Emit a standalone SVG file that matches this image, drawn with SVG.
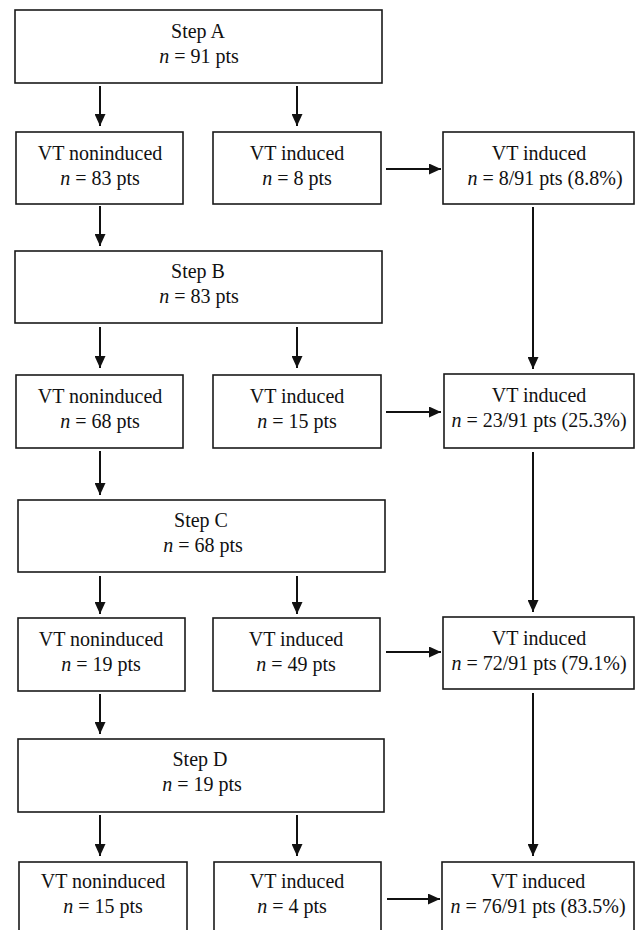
<svg xmlns="http://www.w3.org/2000/svg" width="636" height="930" viewBox="0 0 636 930">
<style>
.box{fill:#fff;stroke:#1a1a1a;stroke-width:1.6}
.t{font-family:"Liberation Serif","Times New Roman",serif;font-size:20px;fill:#111;text-anchor:middle}
.i{font-style:italic}
.c{stroke:#111;stroke-width:2;fill:none}
</style>
<defs>
<marker id="ah" viewBox="0 0 12 11" refX="12" refY="5.5" markerWidth="12" markerHeight="11" markerUnits="userSpaceOnUse" orient="auto">
<path d="M0,0 L12,5.5 L0,11 Z" fill="#111"/>
</marker>
</defs>
<rect width="636" height="930" fill="#fff"/>

<g id="connectors">
<line class="c" x1="100" y1="86" x2="100" y2="126" marker-end="url(#ah)"/>
<line class="c" x1="297" y1="86" x2="297" y2="126" marker-end="url(#ah)"/>
<line class="c" x1="100" y1="206" x2="100" y2="246" marker-end="url(#ah)"/>
<line class="c" x1="386" y1="169" x2="441" y2="169" marker-end="url(#ah)"/>
<line class="c" x1="533" y1="207" x2="533" y2="369" marker-end="url(#ah)"/>

<line class="c" x1="100" y1="327" x2="100" y2="368" marker-end="url(#ah)"/>
<line class="c" x1="297" y1="327" x2="297" y2="368" marker-end="url(#ah)"/>
<line class="c" x1="100" y1="451" x2="100" y2="495" marker-end="url(#ah)"/>
<line class="c" x1="386" y1="412" x2="441" y2="412" marker-end="url(#ah)"/>
<line class="c" x1="533" y1="452" x2="533" y2="612" marker-end="url(#ah)"/>

<line class="c" x1="100" y1="576" x2="100" y2="614" marker-end="url(#ah)"/>
<line class="c" x1="297" y1="576" x2="297" y2="614" marker-end="url(#ah)"/>
<line class="c" x1="100" y1="694" x2="100" y2="734" marker-end="url(#ah)"/>
<line class="c" x1="386" y1="652" x2="441" y2="652" marker-end="url(#ah)"/>
<line class="c" x1="533" y1="693" x2="533" y2="856" marker-end="url(#ah)"/>

<line class="c" x1="100" y1="815" x2="100" y2="856" marker-end="url(#ah)"/>
<line class="c" x1="297" y1="815" x2="297" y2="856" marker-end="url(#ah)"/>
<line class="c" x1="387" y1="899" x2="440" y2="899" marker-end="url(#ah)"/>
</g>

<g id="stepA">
<rect class="box" x="15" y="10" width="367" height="73"/>
<text class="t" x="198" y="38">Step A</text>
<text class="t" x="199" y="63"><tspan class="i">n</tspan> = 91 pts</text>
</g>
<g id="nonA">
<rect class="box" x="16" y="132" width="167" height="72"/>
<text class="t" x="100" y="160">VT noninduced</text>
<text class="t" x="100" y="185"><tspan class="i">n</tspan> = 83 pts</text>
</g>
<g id="indA">
<rect class="box" x="213" y="132" width="168" height="72"/>
<text class="t" x="297" y="160">VT induced</text>
<text class="t" x="297" y="185"><tspan class="i">n</tspan> = 8 pts</text>
</g>
<g id="cumA">
<rect class="box" x="443" y="132" width="191" height="72"/>
<text class="t" x="539" y="160">VT induced</text>
<text class="t" x="545" y="185"><tspan class="i">n</tspan> = 8/91 pts (8.8%)</text>
</g>

<g id="stepB">
<rect class="box" x="15" y="251" width="367" height="72"/>
<text class="t" x="198" y="278">Step B</text>
<text class="t" x="199" y="303"><tspan class="i">n</tspan> = 83 pts</text>
</g>
<g id="nonB">
<rect class="box" x="16" y="375" width="167" height="73"/>
<text class="t" x="100" y="403">VT noninduced</text>
<text class="t" x="100" y="428"><tspan class="i">n</tspan> = 68 pts</text>
</g>
<g id="indB">
<rect class="box" x="213" y="375" width="168" height="73"/>
<text class="t" x="297" y="403">VT induced</text>
<text class="t" x="297" y="428"><tspan class="i">n</tspan> = 15 pts</text>
</g>
<g id="cumB">
<rect class="box" x="444" y="374" width="190" height="74"/>
<text class="t" x="539" y="402">VT induced</text>
<text class="t" x="539" y="427"><tspan class="i">n</tspan> = 23/91 pts (25.3%)</text>
</g>

<g id="stepC">
<rect class="box" x="18" y="500" width="367" height="72"/>
<text class="t" x="201" y="527">Step C</text>
<text class="t" x="203" y="552"><tspan class="i">n</tspan> = 68 pts</text>
</g>
<g id="nonC">
<rect class="box" x="18" y="618" width="167" height="73"/>
<text class="t" x="101" y="646">VT noninduced</text>
<text class="t" x="101" y="671"><tspan class="i">n</tspan> = 19 pts</text>
</g>
<g id="indC">
<rect class="box" x="213" y="618" width="167" height="73"/>
<text class="t" x="296" y="646">VT induced</text>
<text class="t" x="296" y="671"><tspan class="i">n</tspan> = 49 pts</text>
</g>
<g id="cumC">
<rect class="box" x="443" y="617" width="191" height="72"/>
<text class="t" x="539" y="645">VT induced</text>
<text class="t" x="539" y="670"><tspan class="i">n</tspan> = 72/91 pts (79.1%)</text>
</g>

<g id="stepD">
<rect class="box" x="18" y="739" width="366" height="73"/>
<text class="t" x="200" y="766">Step D</text>
<text class="t" x="202" y="791"><tspan class="i">n</tspan> = 19 pts</text>
</g>
<g id="nonD">
<rect class="box" x="19" y="862" width="168" height="80"/>
<text class="t" x="103" y="888">VT noninduced</text>
<text class="t" x="103" y="913"><tspan class="i">n</tspan> = 15 pts</text>
</g>
<g id="indD">
<rect class="box" x="214" y="862" width="167" height="80"/>
<text class="t" x="297" y="888">VT induced</text>
<text class="t" x="292" y="913"><tspan class="i">n</tspan> = 4 pts</text>
</g>
<g id="cumD">
<rect class="box" x="442" y="862" width="192" height="80"/>
<text class="t" x="538" y="888">VT induced</text>
<text class="t" x="538" y="913"><tspan class="i">n</tspan> = 76/91 pts (83.5%)</text>
</g>
</svg>
